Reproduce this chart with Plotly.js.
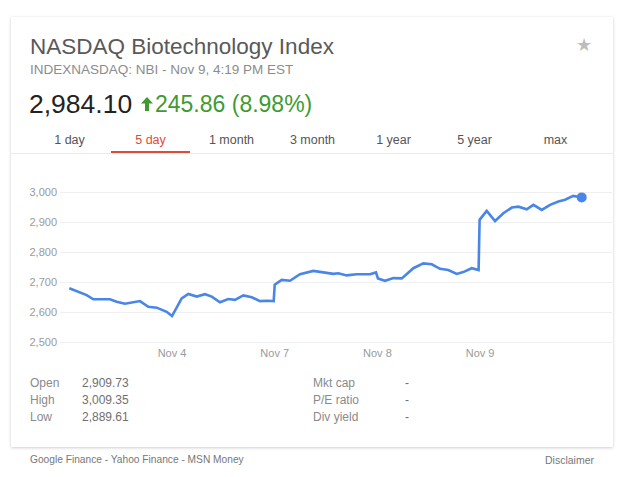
<!DOCTYPE html>
<html>
<head>
<meta charset="utf-8">
<script src="https://cdn.plot.ly/plotly-3.0.1.min.js"></script>
<style>
  html, body { margin:0; padding:0; background:#fff; }
  body { width:624px; height:477px; position:relative; overflow:hidden; font-family: Arial, "Liberation Sans", sans-serif; }
  .abs { position:absolute; white-space:nowrap; }
  .card { position:absolute; left:11px; top:17px; width:602px; height:430px; background:#fff;
          box-shadow: 0 1px 3px rgba(0,0,0,0.18), 0 0 1px rgba(0,0,0,0.08); }
  .tab { position:absolute; top:131px; width:81px; height:18px; line-height:18px; text-align:center; font-size:12.5px; color:#555; }
  .lbl { font-size:12px; color:#8a8a8a; line-height:16px; }
  .val { font-size:12px; color:#6f6f6f; line-height:16px; }
</style>
</head>
<body>
<div class="card"></div>

<div class="abs" style="left:30px;top:34px;font-size:22.5px;line-height:26px;color:#595959;">NASDAQ Biotechnology Index</div>
<div class="abs" style="left:30px;top:62px;font-size:13.5px;line-height:16px;color:#8c8c8c;">INDEXNASDAQ: NBI - Nov 9, 4:19 PM EST</div>
<div class="abs" style="left:576px;top:34px;font-size:18px;line-height:22px;color:#bdbdbd;font-family:'DejaVu Sans',sans-serif;">★</div>

<div class="abs" style="left:29px;top:89px;font-size:26.5px;line-height:30px;color:#222;">2,984.10</div>
<svg class="abs" style="left:141px;top:97px;" width="12" height="14" viewBox="0 0 12 14">
  <path d="M6 0 L12 6.5 L8 6.5 L8 14 L4 14 L4 6.5 L0 6.5 Z" fill="#3f9b30"/>
</svg>
<div class="abs" id="chg" style="left:155px;top:91px;font-size:23px;line-height:26px;color:#3f9b30;">245.86 (8.98%)</div>

<div id="tabs"></div>
<div class="abs" style="left:111px;top:151px;width:79px;height:2px;background:#dd4b39;"></div>
<div class="abs" style="left:11px;top:153px;width:602px;height:1px;background:#ebebeb;"></div>

<div id="stats"></div>

<div class="abs" style="left:30px;top:453px;font-size:10.2px;line-height:14px;color:#777;">Google Finance - Yahoo Finance - MSN Money</div>
<div class="abs" style="right:30px;top:453px;font-size:10.5px;line-height:14px;color:#777;">Disclaimer</div>

<div id="chart" style="position:absolute;left:0;top:0;width:624px;height:477px;"></div>

<script>
// ---- data ----
var sessionPos = [
  0.00, 0.169, 0.234, 0.396, 0.461, 0.542, 0.688, 0.769, 0.851, 0.948, 1.00,
  1.094, 1.159, 1.24, 1.321, 1.387, 1.467, 1.548, 1.613, 1.694, 1.776, 1.857, 1.922, 1.99,
  2.00, 2.068, 2.149, 2.246, 2.376, 2.473, 2.571, 2.619, 2.701, 2.798, 2.928, 2.986,
  3.005, 3.074, 3.155, 3.237, 3.35, 3.447, 3.529, 3.61, 3.69, 3.772, 3.836, 3.918, 3.985,
  3.995, 4.064, 4.145, 4.226, 4.308, 4.372, 4.454, 4.519, 4.60, 4.681, 4.762, 4.827, 4.907, 4.989
];
var indexValues = [
  2680, 2657, 2643, 2643, 2635, 2628, 2637, 2618, 2615, 2601, 2587,
  2646, 2661, 2652, 2660, 2652, 2633, 2644, 2641, 2656, 2650, 2637, 2638, 2637,
  2692, 2708, 2705, 2727, 2738, 2734, 2728, 2730, 2723, 2727, 2727, 2733,
  2713, 2705, 2714, 2713, 2747, 2763, 2760, 2745, 2741, 2728, 2734, 2747, 2741,
  2909, 2939, 2905, 2931, 2950, 2953, 2944, 2959, 2942, 2959, 2970, 2976, 2989, 2984
];
var dayTickPos = [1, 2, 3, 4];
var dayTickLabels = ["Nov 4", "Nov 7", "Nov 8", "Nov 9"];
var yTickVals = [2500, 2600, 2700, 2800, 2900, 3000];
var rangeTabs = ["1 day", "5 day", "1 month", "3 month", "1 year", "5 year", "max"];
var activeTab = "5 day";
var statLabelsLeft = ["Open", "High", "Low"];
var statValuesLeft = ["2,909.73", "3,009.35", "2,889.61"];
var statLabelsRight = ["Mkt cap", "P/E ratio", "Div yield"];
var statValuesRight = ["-", "-", "-"];

// ---- tabs ----
var tabsEl = document.getElementById('tabs');
rangeTabs.forEach(function (t, i) {
  var d = document.createElement('div');
  d.className = 'tab';
  d.style.left = (29 + 81 * i) + 'px';
  d.textContent = t;
  if (t === activeTab) d.style.color = '#dd4b39';
  tabsEl.appendChild(d);
});

// ---- stats ----
var statsEl = document.getElementById('stats');
function addStat(text, cls, left, top) {
  var d = document.createElement('div');
  d.className = 'abs ' + cls;
  d.style.left = left + 'px';
  d.style.top = top + 'px';
  d.textContent = text;
  statsEl.appendChild(d);
}
statLabelsLeft.forEach(function (t, i) {
  addStat(t, 'lbl', 30, 375 + 17 * i);
  addStat(statValuesLeft[i], 'val', 82, 375 + 17 * i);
  addStat(statLabelsRight[i], 'lbl', 313, 375 + 17 * i);
  addStat(statValuesRight[i], 'val', 405, 375 + 17 * i);
});

// ---- chart ----
var blue = '#4a86e8';
var traces = [
  { x: sessionPos, y: indexValues, type: 'scatter', mode: 'lines',
    line: { color: blue, width: 2.6 }, hoverinfo: 'skip' },
  { x: [sessionPos[sessionPos.length - 1]], y: [indexValues[indexValues.length - 1]],
    type: 'scatter', mode: 'markers', marker: { color: blue, size: 10 }, hoverinfo: 'skip' }
];
var layout = {
  width: 624, height: 477,
  margin: { l: 60, r: 12, t: 175, b: 132, pad: 0 },
  paper_bgcolor: 'rgba(0,0,0,0)', plot_bgcolor: 'rgba(0,0,0,0)',
  showlegend: false,
  font: { family: 'Arial, "Liberation Sans", sans-serif', color: '#9a9a9a', size: 11 },
  xaxis: {
    range: [-0.0906, 5.284], showgrid: false, zeroline: false, showline: false,
    tickmode: 'array', tickvals: dayTickPos, ticktext: dayTickLabels,
    ticks: '', tickfont: { size: 11, color: '#9a9a9a' }
  },
  yaxis: {
    range: [2490, 3059], showgrid: true, gridcolor: '#efefef', gridwidth: 1,
    zeroline: false, showline: false, ticklabelstandoff: 2,
    tickmode: 'array', tickvals: yTickVals, tickformat: ',d',
    tickfont: { size: 11, color: '#9a9a9a' }
  }
};
Plotly.newPlot('chart', traces, layout, { staticPlot: true, displayModeBar: false });
</script>
</body>
</html>
